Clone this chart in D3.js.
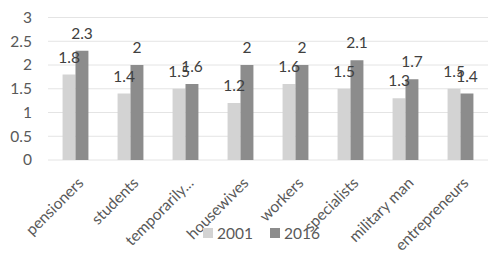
<!DOCTYPE html>
<html><head><meta charset="utf-8">
<script src="https://cdn.jsdelivr.net/npm/d3@7/dist/d3.min.js"></script>
<style>body{margin:0;background:#fff}svg{display:block}text{font-family:Lato,"Open Sans",sans-serif}</style>
</head><body>
<svg id="c" width="499" height="260"></svg>
<script>
const categories = ["pensioners","students","temporarily...","housewives","workers","specialists","military man","entrepreneurs"];
const series = ["2001","2016"];
const values2001 = [1.8,1.4,1.5,1.2,1.6,1.5,1.3,1.5];
const values2016 = [2.3,2.0,1.6,2.0,2.0,2.1,1.7,1.4];
const yTicks = [0,0.5,1,1.5,2,2.5,3];
const colors = ["#d3d3d3","#8c8c8c"];

const svg = d3.select("#c");
const L=48,R=488,T=17.5,B=160;
const y = d3.scaleLinear().domain([0,3]).range([B,T]);
const x = d3.scaleBand().domain(categories).range([L,R]);
const gw = x.bandwidth()*0.47;
const x1 = d3.scaleBand().domain(series).range([0,gw]);
const off = (x.bandwidth()-gw)/2;

// grid
svg.append("g").selectAll("line").data(yTicks).join("line")
  .attr("x1",L).attr("x2",R).attr("y1",d=>y(d)).attr("y2",d=>y(d))
  .attr("stroke","#e4e4e4").attr("stroke-width",1);

// y axis
const ya = svg.append("g").attr("transform",`translate(${L},0)`)
  .call(d3.axisLeft(y).tickValues(yTicks).tickSize(0).tickPadding(16).tickFormat(d3.format("")));
ya.select(".domain").remove();
ya.selectAll("text").attr("font-size",15.5).attr("fill","#595959").attr("font-family","Lato");

const data = categories.map((c,i)=>({c, v:[values2001[i],values2016[i]]}));
const g = svg.append("g").selectAll("g").data(data).join("g")
  .attr("transform",d=>`translate(${x(d.c)+off},0)`);
g.selectAll("rect").data(d=>d.v.map((v,j)=>({s:series[j],v,j}))).join("rect")
  .attr("x",d=>x1(d.s)).attr("width",x1.bandwidth())
  .attr("y",d=>y(d.v)).attr("height",d=>B-y(d.v)).attr("fill",d=>colors[d.j]);
g.selectAll("text").data(d=>d.v.map((v,j)=>({s:series[j],v,j}))).join("text")
  .attr("x",d=>x1(d.s)+x1.bandwidth()/2).attr("y",d=>y(d.v)-12)
  .attr("text-anchor","middle").attr("font-size",15.5).attr("fill","#404040")
  .text(d=>d.v);

// x axis labels
const xa = svg.append("g").attr("transform",`translate(0,${B})`)
  .call(d3.axisBottom(x).tickSize(0).tickPadding(0));
xa.select(".domain").remove();
xa.selectAll("text").attr("font-size",15.5).attr("fill","#595959").attr("font-family","Lato")
  .attr("text-anchor","end").attr("dy",0).attr("y",0)
  .attr("transform","translate(9,24) rotate(-45)");

// legend
const leg = svg.append("g");
const lx = [203,270];
series.forEach((s,i)=>{
  leg.append("rect").attr("x",lx[i]).attr("y",228).attr("width",10).attr("height",10).attr("fill",colors[i]);
  leg.append("text").attr("x",lx[i]+14).attr("y",239).attr("font-size",15.5).attr("fill","#595959").text(s);
});
</script>
</body></html>
